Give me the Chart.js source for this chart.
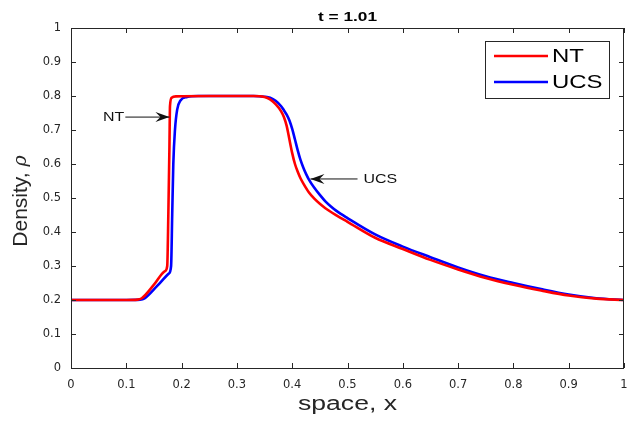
<!DOCTYPE html>
<html>
<head>
<meta charset="utf-8">
<script src="https://cdn.jsdelivr.net/npm/chart.js@4.4.1/dist/chart.umd.min.js"></script>
<style>
html,body{margin:0;padding:0;background:#fff;}
#wrap{width:627px;height:425px;}
</style>
</head>
<body>
<div id="wrap"><canvas id="c" width="627" height="425"></canvas></div>
<script>
// ---- data ----
const ntX = [0,0.1,0.12,0.128,0.15,0.17,0.174,0.176,0.178,0.179,0.182,0.19,0.25,0.33,0.35,0.36,0.37,0.38,0.385,0.39,0.395,0.40,0.405,0.41,0.415,0.42,0.43,0.44,0.45,0.46,0.48,0.5,0.55,0.6,0.65,0.7,0.75,0.8,0.85,0.9,0.95,1.0];
const ntY = [0.2,0.2,0.201,0.205,0.245,0.285,0.30,0.45,0.65,0.77,0.795,0.799,0.8,0.8,0.797,0.79,0.776,0.755,0.738,0.712,0.672,0.632,0.6,0.577,0.558,0.543,0.517,0.498,0.483,0.47,0.449,0.43,0.383,0.35,0.318,0.29,0.265,0.245,0.228,0.213,0.204,0.2];
const ucsX = [0,0.1,0.125,0.133,0.155,0.177,0.181,0.183,0.185,0.188,0.192,0.198,0.21,0.23,0.33,0.35,0.36,0.37,0.38,0.385,0.39,0.395,0.40,0.405,0.41,0.415,0.42,0.425,0.43,0.44,0.45,0.46,0.47,0.48,0.5,0.55,0.6,0.65,0.7,0.75,0.8,0.85,0.9,0.95,1.0];
const ucsY = [0.2,0.2,0.201,0.205,0.24,0.278,0.30,0.45,0.6,0.7,0.76,0.787,0.797,0.8,0.8,0.798,0.795,0.786,0.77,0.758,0.745,0.728,0.703,0.672,0.64,0.612,0.59,0.571,0.555,0.53,0.509,0.49,0.475,0.462,0.441,0.393,0.357,0.326,0.296,0.27,0.25,0.232,0.216,0.205,0.2];
const seriesNames = ['NT','UCS'];
const xTicks = [0,0.1,0.2,0.3,0.4,0.5,0.6,0.7,0.8,0.9,1];
const yTicks = [0,0.1,0.2,0.3,0.4,0.5,0.6,0.7,0.8,0.9,1];
const titleText = 't = 1.01';
const xLabel = 'space, x';
const yLabel = 'Density, ';
const yLabelSym = 'ρ';
// annotations: [label, textX, textY, arrowTipX, arrowTipY] in data units
const notes = [
  ['NT', 0.058, 0.738, 0.178, 0.738],
  ['UCS', 0.529, 0.556, 0.433, 0.556]
];

const pts = (xs, ys) => xs.map((x, i) => ({x: x, y: ys[i]}));
const FONT = '"Liberation Sans", Arial, Helvetica, sans-serif';
const TFONT = '"DejaVu Sans", "Liberation Sans", sans-serif';
const AX = '#262626';
const SX = 1.33; // horizontal stretch of the reference text

function textW(ctx, t) { return ctx.measureText(t).width * SX; }
function drawText(ctx, t, x, y, align) {
  const w = textW(ctx, t);
  let left = x;
  if (align === 'center') left = x - w / 2;
  else if (align === 'right') left = x - w;
  ctx.save();
  ctx.translate(left, y);
  ctx.scale(SX, 1);
  ctx.textAlign = 'left';
  ctx.textBaseline = 'middle';
  ctx.fillText(t, 0, 0);
  ctx.restore();
  return w;
}

const decor = {
  id: 'decor',
  afterDatasetsDraw(chart) {
    const ctx = chart.ctx, a = chart.chartArea;
    const xs = chart.scales.x, ys = chart.scales.y;
    ctx.save();
    // frame
    ctx.strokeStyle = AX; ctx.lineWidth = 1;
    ctx.strokeRect(Math.round(a.left) + 0.5, Math.round(a.top) + 0.5, Math.round(a.right - a.left) - 1, Math.round(a.bottom - a.top));
    // ticks inward on all four sides
    const tl = 5;
    ctx.beginPath();
    xTicks.forEach(v => {
      const px = Math.round(xs.getPixelForValue(v)) + 0.5;
      ctx.moveTo(px, a.bottom); ctx.lineTo(px, a.bottom - tl);
      ctx.moveTo(px, a.top); ctx.lineTo(px, a.top + tl);
    });
    yTicks.forEach(v => {
      const py = Math.round(ys.getPixelForValue(v)) + 0.5;
      ctx.moveTo(a.left, py); ctx.lineTo(a.left + tl, py);
      ctx.moveTo(a.right, py); ctx.lineTo(a.right - tl, py);
    });
    ctx.stroke();
    // title
    ctx.fillStyle = '#000';
    ctx.font = 'bold 13px ' + FONT;
    drawText(ctx, titleText, (a.left + a.right) / 2, 17, 'center');
    // axis titles
    ctx.fillStyle = AX;
    ctx.font = '20px ' + FONT;
    drawText(ctx, xLabel, (a.left + a.right) / 2, 404, 'center');
    ctx.save();
    ctx.translate(21, (a.top + a.bottom) / 2 + 3);
    ctx.rotate(-Math.PI / 2);
    ctx.font = '21px ' + FONT;
    const w1 = ctx.measureText(yLabel).width;
    ctx.font = 'italic 19px "DejaVu Serif", "Liberation Serif", serif';
    const w2 = ctx.measureText(yLabelSym).width;
    const start = -(w1 + w2) / 2;
    ctx.textAlign = 'left'; ctx.textBaseline = 'middle';
    ctx.font = '21px ' + FONT;
    ctx.fillText(yLabel, start, 0);
    ctx.font = 'italic 19px "DejaVu Serif", "Liberation Serif", serif';
    ctx.fillText(yLabelSym, start + w1, 0);
    ctx.restore();
    // annotations
    notes.forEach(n => {
      const tx = xs.getPixelForValue(n[1]), ty = ys.getPixelForValue(n[2]);
      const hx = xs.getPixelForValue(n[3]), hy = ys.getPixelForValue(n[4]);
      ctx.font = '12px ' + FONT;
      ctx.fillStyle = '#111';
      const tw = drawText(ctx, n[0], tx, ty + 1, 'left');
      const sx = hx > tx ? tx + tw + 1 : tx - 6;
      ctx.strokeStyle = '#111'; ctx.lineWidth = 1;
      ctx.beginPath(); ctx.moveTo(sx, ty); ctx.lineTo(hx, hy); ctx.stroke();
      const dir = hx > sx ? 1 : -1;
      ctx.beginPath();
      ctx.moveTo(hx, hy);
      ctx.lineTo(hx - dir * 14, hy - 5);
      ctx.lineTo(hx - dir * 9, hy);
      ctx.lineTo(hx - dir * 14, hy + 5);
      ctx.closePath(); ctx.fill();
    });
    // legend
    const lx = 485.5, ly = 41.5, lw = 124, lh = 57;
    ctx.fillStyle = '#fff';
    ctx.fillRect(lx, ly, lw, lh);
    ctx.strokeStyle = AX; ctx.lineWidth = 1;
    ctx.strokeRect(lx, ly, lw, lh);
    chart.data.datasets.forEach((ds, i) => {
      const y = 56 + i * 26;
      ctx.strokeStyle = ds.borderColor; ctx.lineWidth = 2.5;
      ctx.beginPath(); ctx.moveTo(494, y); ctx.lineTo(548, y); ctx.stroke();
      ctx.fillStyle = '#000';
      ctx.font = '18px ' + FONT;
      drawText(ctx, ds.label, 552, y + 1, 'left');
    });
    ctx.restore();
  }
};

new Chart(document.getElementById('c'), {
  type: 'scatter',
  data: {
    datasets: [
      {label: seriesNames[0], data: pts(ntX, ntY), showLine: true, borderColor: '#ff0000', backgroundColor: '#ff0000', borderWidth: 2.6, pointRadius: 0, cubicInterpolationMode: 'monotone'},
      {label: seriesNames[1], data: pts(ucsX, ucsY), showLine: true, borderColor: '#0000ff', backgroundColor: '#0000ff', borderWidth: 2.6, pointRadius: 0, cubicInterpolationMode: 'monotone'}
    ]
  },
  options: {
    responsive: false,
    animation: false,
    layout: {padding: {top: 28, right: 3, left: 0, bottom: 0}},
    plugins: {
      legend: {display: false},
      tooltip: {enabled: false},
      title: {display: false}
    },
    scales: {
      x: {
        type: 'linear', min: 0, max: 1,
        afterBuildTicks: s => { s.ticks = xTicks.map(v => ({value: v})); },
        afterFit: s => { s.height = 57; s.paddingLeft = 0; s.paddingRight = 0; },
        grid: {display: false, drawTicks: false}, border: {display: false},
        ticks: {color: AX, font: {family: TFONT, size: 11.5}, padding: 10, maxRotation: 0, autoSkip: false, callback: v => String(v)}
      },
      y: {
        type: 'linear', min: 0, max: 1,
        afterBuildTicks: s => { s.ticks = yTicks.map(v => ({value: v})); },
        afterFit: s => { s.width = 71; s.paddingTop = 0; s.paddingBottom = 0; },
        grid: {display: false, drawTicks: false}, border: {display: false},
        ticks: {color: AX, font: {family: TFONT, size: 11.5}, padding: 10, autoSkip: false, callback: v => String(v)}
      }
    }
  },
  plugins: [decor]
});
</script>
</body>
</html>
